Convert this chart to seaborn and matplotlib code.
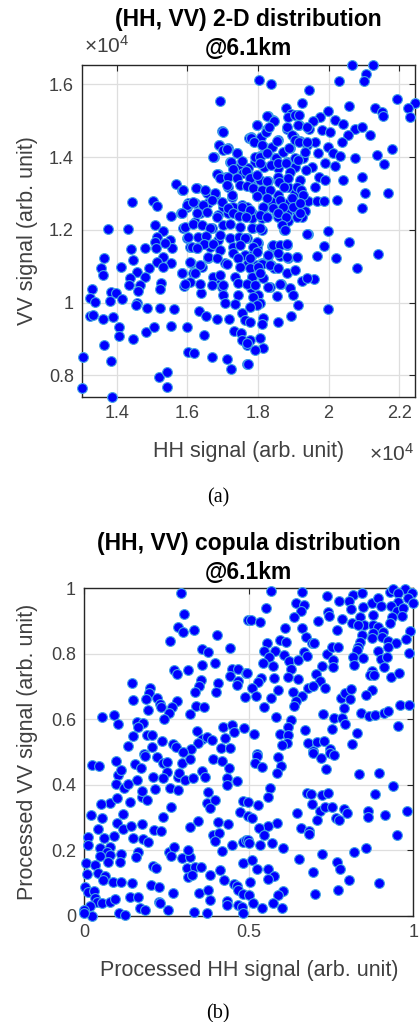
import numpy as np
import pandas as pd
import matplotlib
matplotlib.use('Agg')
import matplotlib.pyplot as plt
import seaborn as sns
from matplotlib.ticker import FuncFormatter

# (a) HH / VV signal, values in units of 1e4
hh_a_upper_left = [1.693,1.697,1.690,1.714,1.676,1.742,1.775,1.721,1.744,1.688,1.711,1.759,1.567,1.584,1.627,1.655,1.678,1.716,
                   1.726,1.442,1.502,1.513,1.603,1.622,1.660,1.702,1.754,1.554,1.582,1.636,1.688,1.716,1.745,1.768,1.598,1.730]
vv_a_upper_left = [1.554,1.471,1.433,1.424,1.401,1.412,1.453,1.387,1.371,1.353,1.346,1.355,1.326,1.309,1.314,1.302,1.295,1.318,
                   1.291,1.276,1.280,1.265,1.273,1.273,1.274,1.263,1.268,1.239,1.247,1.245,1.240,1.245,1.240,1.247,1.263,1.263]

hh_a_upper_right = [2.066,2.125,2.105,2.101,2.031,1.804,1.837,1.946,2.193,2.245,2.224,2.231,2.059,2.132,2.151,2.155,1.926,1.879,
                    1.893,1.915,1.999,1.976,1.957,2.018,2.042,1.828,1.844,1.797,1.917,1.945,1.882,1.825,1.981,2.004,2.075,2.096,
                    2.118,2.056,1.781,1.809,1.858,1.903,1.919,1.938,1.962,2.037,1.891,1.816,1.841,1.999,1.971,2.014,2.032,2.179,
                    2.137,2.075,2.158,1.806,1.848,1.792,1.882,1.929,1.952,1.990,2.019,1.771,1.816,1.858,1.905,1.973,1.990,2.040,
                    2.096,1.781,1.806,1.830,1.858,1.915,1.962,1.884,1.781,1.825,1.797,1.858,1.905,2.102,2.168,1.943,1.967,1.987,
                    2.023,1.886,1.839,1.768,1.816,2.094,1.782,1.853,1.932,1.910,1.882,1.818]
vv_a_upper_right = [1.653,1.653,1.628,1.609,1.609,1.612,1.602,1.584,1.559,1.548,1.536,1.511,1.541,1.536,1.525,1.513,1.549,1.536,
                    1.517,1.515,1.526,1.511,1.500,1.502,1.491,1.513,1.502,1.488,1.488,1.476,1.476,1.476,1.473,1.470,1.476,1.483,
                    1.460,1.460,1.454,1.456,1.448,1.456,1.444,1.433,1.442,1.442,1.424,1.428,1.428,1.428,1.410,1.412,1.403,1.422,
                    1.406,1.396,1.381,1.403,1.396,1.387,1.387,1.396,1.373,1.383,1.375,1.369,1.373,1.371,1.373,1.346,1.337,1.337,
                    1.346,1.346,1.337,1.335,1.346,1.318,1.318,1.318,1.323,1.305,1.293,1.295,1.300,1.300,1.300,1.280,1.280,1.280,
                    1.282,1.274,1.277,1.263,1.263,1.261,1.247,1.245,1.251,1.247,1.247,1.240]

hh_a_lower_left = [1.376,1.433,1.508,1.532,1.513,1.508,1.551,1.556,1.537,1.480,1.510,1.441,1.589,1.598,1.608,1.627,1.645,1.622,
                   1.669,1.688,1.664,1.364,1.447,1.532,1.513,1.554,1.356,1.362,1.411,1.492,1.532,1.610,1.660,1.641,1.707,1.457,
                   1.480,1.438,1.436,1.466,1.525,1.523,1.461,1.586,1.617,1.592,1.608,1.677,1.683,1.697,1.735,1.745,1.331,1.324,
                   1.339,1.384,1.397,1.381,1.414,1.457,1.639,1.702,1.745,1.707,1.735,1.324,1.334,1.360,1.389,1.454,1.485,1.523,
                   1.563,1.633,1.653,1.683,1.718,1.754,1.763,1.407,1.407,1.445,1.483,1.507,1.554,1.598,1.648,1.733,1.751,1.754,
                   1.768,1.364,1.305,1.383,1.603,1.620,1.671,1.713,1.724,1.768,1.520,1.542,1.542,1.3026,1.386]
vv_a_lower_left = [1.202,1.202,1.213,1.197,1.181,1.167,1.172,1.149,1.163,1.149,1.151,1.146,1.204,1.178,1.153,1.149,1.176,1.222,
                   1.204,1.172,1.153,1.123,1.117,1.126,1.110,1.108,1.094,1.076,1.098,1.096,1.098,1.108,1.123,1.098,1.108,1.085,
                   1.071,1.066,1.048,1.048,1.054,1.037,1.032,1.080,1.080,1.046,1.057,1.053,1.068,1.043,1.071,1.053,1.037,1.013,
                   1.002,1.028,1.025,1.004,1.010,1.000,1.025,1.020,1.020,0.998,0.995,0.964,0.967,0.956,0.961,0.993,0.984,0.984,
                   0.981,0.977,0.963,0.956,0.956,0.970,0.952,0.933,0.908,0.900,0.918,0.933,0.936,0.932,0.911,0.921,0.915,0.897,
                   0.883,0.883,0.851,0.840,0.865,0.860,0.851,0.844,0.817,0.830,0.796,0.810,0.768,0.764,0.741]

hh_a_lower_right = [1.782,1.813,1.858,1.884,1.924,1.875,1.811,1.787,1.941,1.999,2.058,1.988,2.139,2.020,1.967,2.080,1.768,1.799,
                    1.797,1.841,1.853,1.882,1.863,1.886,1.910,1.828,1.782,1.773,1.797,1.811,1.837,1.847,1.782,1.815,1.926,1.960,
                    1.866,1.891,1.834,1.781,1.899,1.853,1.801,1.787,1.915,1.999,1.806,1.797,1.778,1.894,1.856,1.815,1.811,1.778,
                    1.806,1.778,1.815,1.792,1.771,1.768]
vv_a_lower_right = [1.233,1.231,1.236,1.224,1.236,1.199,1.199,1.204,1.187,1.196,1.165,1.155,1.132,1.123,1.129,1.096,1.176,1.163,
                    1.151,1.155,1.144,1.158,1.129,1.121,1.126,1.129,1.131,1.108,1.103,1.108,1.103,1.094,1.071,1.066,1.060,1.064,
                    1.051,1.041,1.043,1.039,1.020,1.019,1.020,1.016,0.993,0.981,0.998,0.993,0.988,0.964,0.947,0.958,0.941,0.947,
                    0.903,0.897,0.876,0.869,0.830,0.888]

hh_a_core = [1.827,1.846,1.797,1.823,1.832,1.886,1.905,1.917,1.882,1.915,1.938,1.700,1.780,1.789,1.813,1.855,1.896,1.905,
             1.917,1.938,1.691,1.700,1.712,1.742,1.674,1.792,1.806,1.827,1.851,1.872,1.889,1.905,1.933,1.723,1.754,1.806,
             1.836,1.858,1.880,1.915,1.936,1.891,1.730,1.766,1.685,1.693,1.716,1.740,1.778,1.797,1.827,1.861,1.886,1.919,
             1.712,1.749,1.768,1.785,1.813,1.834,1.874,1.910,1.921,1.587,1.625,1.650,1.679,1.726,1.797,1.827,1.863,1.896,
             1.929,1.598,1.617,1.644,1.669,1.697,1.716,1.754,1.778,1.815,1.844,1.872,1.900,1.919,1.584,1.627,1.655,1.683,
             1.730,1.747,1.766,1.806,1.827,1.858,1.880,1.910,1.919,1.594,1.617,1.641,1.664,1.702,1.721,1.749,1.782,1.806,
             1.867,1.877,1.940,1.603,1.631,1.653,1.693,1.721,1.747,1.763,1.798,1.612,1.646,1.674,1.730,1.749,1.785,1.844,
             1.863,1.883,1.627,1.693,1.730,1.763,1.797,1.830,1.858,1.882,1.910,1.608,1.660,1.683,1.712,1.745,1.778,1.811,
             1.834,1.636,1.749,1.778,1.801,1.584,1.622,1.674,1.693,1.782,1.806,1.858,1.882,1.905,1.938,1.594,1.636,1.669,
             1.702,1.768,1.792,1.830,1.863]
vv_a_core = [1.513,1.500,1.488,1.470,1.482,1.511,1.515,1.515,1.483,1.488,1.483,1.470,1.451,1.442,1.433,1.445,1.460,1.447,
             1.442,1.442,1.433,1.419,1.421,1.412,1.399,1.401,1.401,1.410,1.396,1.415,1.424,1.396,1.415,1.387,1.390,1.383,
             1.378,1.384,1.384,1.392,1.364,1.360,1.366,1.362,1.353,1.341,1.346,1.341,1.341,1.350,1.335,1.332,1.341,1.337,
             1.323,1.323,1.320,1.316,1.309,1.309,1.318,1.318,1.309,1.309,1.314,1.309,1.300,1.295,1.293,1.286,1.282,1.286,
             1.295,1.268,1.277,1.268,1.282,1.277,1.259,1.263,1.254,1.263,1.259,1.263,1.263,1.273,1.245,1.245,1.250,1.236,
             1.245,1.238,1.236,1.240,1.236,1.245,1.236,1.236,1.245,1.208,1.217,1.213,1.204,1.213,1.217,1.208,1.204,1.204,
             1.213,1.199,1.188,1.181,1.181,1.183,1.185,1.176,1.181,1.176,1.167,1.153,1.162,1.162,1.153,1.158,1.153,1.158,
             1.158,1.162,1.149,1.144,1.135,1.130,1.140,1.130,1.135,1.126,1.126,1.112,1.126,1.121,1.107,1.121,1.121,1.107,
             1.103,1.103,1.098,1.094,1.098,1.080,1.080,1.071,1.075,1.071,1.080,1.094,1.080,1.089,1.066,1.052,1.052,1.048,
             1.048,1.052,1.048,1.043,1.052]

# (b) processed (copula) values
hh_b_upper_left = [0.294,0.303,0.498,0.286,0.301,0.333,0.404,0.260,0.443,0.359,0.377,0.357,0.397,0.273,0.281,0.316,0.448,0.468,
                   0.493,0.443,0.468,0.463,0.354,0.350,0.407,0.146,0.200,0.198,0.336,0.399,0.488,0.149,0.187,0.220,0.230,0.233,
                   0.281,0.266,0.193,0.257,0.339,0.364,0.321,0.053,0.090,0.103,0.159,0.179,0.164,0.243,0.147,0.190,0.205,0.134,
                   0.207,0.237,0.271,0.279,0.344,0.357,0.372,0.387,0.347,0.421,0.448,0.456,0.486,0.428,0.415,0.443,0.324,0.301,0.182]
vv_b_upper_left = [0.985,0.923,0.903,0.881,0.865,0.873,0.857,0.840,0.817,0.814,0.806,0.766,0.771,0.750,0.738,0.750,0.752,0.755,
                   0.742,0.732,0.718,0.705,0.720,0.702,0.710,0.712,0.694,0.679,0.682,0.682,0.669,0.659,0.661,0.664,0.648,0.638,
                   0.657,0.638,0.628,0.620,0.641,0.636,0.616,0.606,0.613,0.587,0.593,0.590,0.577,0.600,0.549,0.552,0.552,0.519,
                   0.516,0.533,0.523,0.516,0.565,0.539,0.547,0.536,0.528,0.575,0.582,0.560,0.572,0.542,0.511,0.511,0.508,0.501,0.494]

hh_b_upper_right = [0.567,0.661,0.737,0.642,0.669,0.659,0.551,0.638,0.507,0.534,0.610,0.663,0.673,0.595,0.613,0.554,0.691,0.699,
                    0.547,0.580,0.608,0.561,0.669,0.676,0.737,0.754,0.772,0.544,0.623,0.649,0.575,0.627,0.723,0.757,0.757,0.703,
                    0.494,0.537,0.527,0.578,0.618,0.650,0.716,0.509,0.588,0.681,0.696,0.732,0.635,0.521,0.567,0.661,0.643,0.638,
                    0.547,0.780,0.792,0.811,0.808,0.790,0.582,0.628,0.620,0.726,0.760,0.782,0.792,0.841,0.865,0.884,0.912,0.922,
                    0.960,0.987,0.954,0.517,0.595,0.620,0.671,0.754,0.828,0.615,0.600,0.679,0.706,0.729,0.813,0.696,0.747,0.524,
                    0.774,0.818,0.843,0.805,0.742,0.744,0.811,0.848,0.873,0.894,0.902,0.929,0.939,0.975,0.995,0.954,0.985,0.998,
                    0.954,0.932,0.949,0.970,0.934,0.965,0.784,0.711,0.813,0.838,0.878,0.851,0.833,0.767,0.877,0.894,0.929,0.909,
                    0.878,0.843,0.873,0.904,0.990,0.838,0.833,0.924,0.946,0.978,0.894,0.922,0.828,0.987,0.818,0.848,0.902,0.919,
                    0.821,0.912,0.873,0.868,0.882,0.931,0.958,0.875,0.855]
vv_b_upper_right = [0.993,0.990,0.977,0.956,0.949,0.932,0.939,0.913,0.903,0.896,0.878,0.878,0.852,0.842,0.837,0.834,0.832,0.834,
                    0.808,0.809,0.796,0.791,0.806,0.793,0.799,0.822,0.822,0.773,0.778,0.781,0.763,0.752,0.763,0.781,0.759,0.738,
                    0.742,0.725,0.715,0.725,0.728,0.722,0.718,0.697,0.689,0.697,0.702,0.694,0.684,0.671,0.664,0.671,0.657,0.641,
                    0.638,0.664,0.679,0.691,0.662,0.633,0.606,0.598,0.577,0.615,0.603,0.603,0.585,0.618,0.610,0.613,0.620,0.625,
                    0.643,0.643,0.579,0.555,0.555,0.552,0.567,0.569,0.557,0.526,0.521,0.529,0.531,0.533,0.524,0.504,0.508,0.494,
                    0.961,0.979,0.987,0.961,0.929,0.915,0.936,0.944,0.954,0.969,0.946,0.990,0.998,0.998,0.987,0.985,0.969,0.954,
                    0.959,0.946,0.932,0.939,0.911,0.915,0.905,0.900,0.895,0.913,0.918,0.888,0.888,0.873,0.888,0.883,0.893,0.867,
                    0.862,0.857,0.847,0.852,0.871,0.837,0.822,0.839,0.832,0.844,0.809,0.822,0.811,0.801,0.789,0.786,0.783,0.789,
                    0.766,0.759,0.748,0.735,0.735,0.728,0.742,0.689,0.674]

hh_b_lower_left = [0.022,0.044,0.096,0.154,0.172,0.184,0.220,0.240,0.250,0.250,0.210,0.240,0.103,0.113,0.159,0.095,0.122,0.134,
                   0.078,0.098,0.139,0.174,0.190,0.174,0.215,0.051,0.019,0.053,0.119,0.240,0.263,0.260,0.286,0.286,0.288,0.306,
                   0.298,0.321,0.331,0.357,0.367,0.392,0.418,0.440,0.433,0.463,0.433,0.375,0.373,0.397,0.382,0.483,0.473,0.499,
                   0.321,0.347,0.407,0.438,0.041,0.100,0.119,0.142,0.176,0.213,0.233,0.012,0.061,0.091,0.149,0.179,0.193,0.392,
                   0.409,0.397,0.012,0.048,0.078,0.068,0.078,0.048,0.113,0.162,0.157,0.257,0.274,0.263,0.296,0.321,0.316,0.448,
                   0.420,0.483,0.490,0.004,0.032,0.073,0.108,0.208,0.217,0.311,0.336,0.355,0.483,0.007,0.041,0.063,0.314,0.326,
                   0.382,0.412,0.058,0.086,0.112,0.144,0.203,0.227,0.426,0.456,0.002,0.012,0.031,0.271,0.350,0.377,0.463,0.466,
                   0.483,0.033,0.038,0.055,0.078,0.093,0.139,0.162,0.228,0.382,0.433,0.433,0.169,0.185,0.255,0.333,0.372,0.468,
                   0.478,0.017,0.000,0.024,0.000,0.106,0.124,0.483,0.230]
vv_b_lower_left = [0.460,0.457,0.474,0.463,0.452,0.488,0.486,0.465,0.470,0.440,0.425,0.420,0.430,0.445,0.414,0.402,0.389,0.402,
                   0.345,0.358,0.348,0.364,0.353,0.381,0.386,0.341,0.308,0.297,0.311,0.302,0.333,0.389,0.425,0.384,0.435,0.416,
                   0.467,0.478,0.420,0.443,0.423,0.478,0.471,0.450,0.420,0.412,0.399,0.377,0.345,0.353,0.328,0.350,0.318,0.303,
                   0.272,0.290,0.287,0.280,0.264,0.284,0.264,0.274,0.280,0.262,0.260,0.239,0.236,0.243,0.236,0.233,0.226,0.246,
                   0.254,0.229,0.216,0.206,0.211,0.196,0.185,0.182,0.188,0.196,0.180,0.196,0.209,0.182,0.175,0.178,0.201,0.216,
                   0.199,0.226,0.231,0.160,0.155,0.165,0.165,0.152,0.145,0.145,0.150,0.150,0.160,0.127,0.131,0.121,0.119,0.124,
                   0.124,0.140,0.109,0.102,0.102,0.099,0.094,0.087,0.109,0.097,0.089,0.073,0.076,0.070,0.068,0.080,0.091,0.078,
                   0.066,0.053,0.043,0.038,0.043,0.050,0.058,0.056,0.043,0.048,0.046,0.033,0.022,0.017,0.017,0.010,0.007,0.033,
                   0.028,0.030,0.017,0.000,0.007,0.007,0.002,0.008,0.039]

hh_b_lower_right = [0.524,0.590,0.519,0.541,0.598,0.585,0.696,0.719,0.747,0.760,0.734,0.835,0.897,0.937,0.564,0.557,0.678,0.688,
                    0.723,0.742,0.884,0.499,0.527,0.693,0.648,0.716,0.732,0.752,0.790,0.799,0.863,0.861,0.914,0.982,0.511,0.706,
                    0.764,0.775,0.585,0.557,0.531,0.659,0.684,0.684,0.546,0.951,0.499,0.501,0.569,0.534,0.603,0.821,0.855,0.721,
                    0.654,0.511,0.767,0.524,0.559,0.777,0.694,0.578,0.557,0.504,0.804,0.897,0.605,0.590,0.701,0.772,0.501,0.514,
                    0.575,0.541,0.600]
vv_b_lower_right = [0.488,0.486,0.467,0.455,0.457,0.435,0.498,0.481,0.496,0.491,0.447,0.432,0.437,0.397,0.389,0.364,0.374,0.371,
                    0.369,0.374,0.371,0.348,0.338,0.341,0.315,0.320,0.331,0.331,0.325,0.315,0.321,0.302,0.308,0.320,0.299,0.292,
                    0.297,0.292,0.284,0.274,0.269,0.269,0.259,0.249,0.248,0.246,0.231,0.221,0.223,0.216,0.206,0.196,0.206,0.188,
                    0.172,0.170,0.165,0.143,0.142,0.143,0.134,0.121,0.112,0.104,0.109,0.099,0.076,0.063,0.065,0.078,0.063,0.038,
                    0.038,0.022,0.025]

df_a = pd.DataFrame({
    'HH': hh_a_upper_left + hh_a_upper_right + hh_a_lower_left + hh_a_lower_right + hh_a_core,
    'VV': vv_a_upper_left + vv_a_upper_right + vv_a_lower_left + vv_a_lower_right + vv_a_core,
})
df_b = pd.DataFrame({
    'HH': hh_b_upper_left + hh_b_upper_right + hh_b_lower_left + hh_b_lower_right,
    'VV': vv_b_upper_left + vv_b_upper_right + vv_b_lower_left + vv_b_lower_right,
})

sns.set_style('white')
plt.rcParams['font.family'] = ['Liberation Sans', 'DejaVu Sans']
plt.rcParams['mathtext.fontset'] = 'custom'
plt.rcParams['mathtext.rm'] = 'Liberation Sans'

W, H = 420, 1022
fig = plt.figure(figsize=(W / 100, H / 100), dpi=100)
ax1 = fig.add_axes([82.3 / W, 1 - 396.7 / H, 332.7 / W, 331.7 / H])
ax2 = fig.add_axes([84.3 / W, 1 - 915.7 / H, 329.0 / W, 327.4 / H])

dot = dict(color='#0000ff', edgecolor='#45a6e6', linewidth=0.8, s=50, clip_on=False, legend=False, zorder=3)
sns.scatterplot(data=df_a, x='HH', y='VV', ax=ax1, **dot)
sns.scatterplot(data=df_b, x='HH', y='VV', ax=ax2, **dot)

tick_col = '#404040'
fmt = FuncFormatter(lambda v, p: f'{v:g}')


def style(ax, xlim, ylim, xt, yt):
    ax.set_xlim(*xlim)
    ax.set_ylim(*ylim)
    ax.set_xticks(xt)
    ax.set_yticks(yt)
    ax.xaxis.set_major_formatter(fmt)
    ax.yaxis.set_major_formatter(fmt)
    ax.grid(True, color='#dedede', linewidth=0.9)
    ax.set_axisbelow(True)
    ax.tick_params(direction='in', top=True, right=True, length=4, width=0.8,
                   color='#262626', labelcolor=tick_col, labelsize=13, pad=6)
    for s in ax.spines.values():
        s.set_color('#262626')
        s.set_linewidth(1.0)


style(ax1, (1.3026, 2.245), (0.741, 1.653), [1.4, 1.6, 1.8, 2.0, 2.2], [0.8, 1.0, 1.2, 1.4, 1.6])
style(ax2, (0, 1), (0, 1), [0, 0.5, 1], [0, 0.2, 0.4, 0.6, 0.8, 1.0])

lab = dict(fontsize=15.5, color=tick_col)
ax1.set_xlabel('HH signal (arb. unit)', **lab)
ax1.set_ylabel('VV signal (arb. unit)', **lab)
ax2.set_xlabel('Processed HH signal (arb. unit)', **lab)
ax2.set_ylabel('Processed VV signal (arb. unit)', **lab)
for ax, ah, aw in [(ax1, 331.7, 332.7), (ax2, 327.4, 329.0)]:
    ax.xaxis.label.set_va('center')
    ax.yaxis.label.set_va('center')
    ax.xaxis.set_label_coords(0.5, -55 / ah)
    ax.yaxis.set_label_coords(-(ax.get_position().x0 * W - 28) / aw, 0.5)

title = dict(fontsize=16.5, fontweight='bold', ha='center', va='baseline', color='black')
fig.text(248.6 / W, 1 - 26 / H, '(HH, VV) 2-D distribution', **title)
fig.text(248.6 / W, 1 - 55 / H, '@6.1km', **title)
fig.text(248.8 / W, 1 - 550 / H, '(HH, VV) copula distribution', **title)
fig.text(248.8 / W, 1 - 579 / H, '@6.1km', **title)

mult = dict(fontsize=15, color=tick_col, va='baseline')
fig.text(84 / W, 1 - 53 / H, r'$\times\mathregular{10^4}$', ha='left', **mult)
fig.text(414 / W, 1 - 461 / H, r'$\times\mathregular{10^4}$', ha='right', **mult)

cap = dict(fontsize=14.5, family='Liberation Serif', ha='center', va='center', color='black')
fig.text(218 / W, 1 - 498 / H, '(a)', **cap)
fig.text(218 / W, 1 - 1014 / H, '(b)', **cap)

fig.savefig('out.png', dpi=100)
